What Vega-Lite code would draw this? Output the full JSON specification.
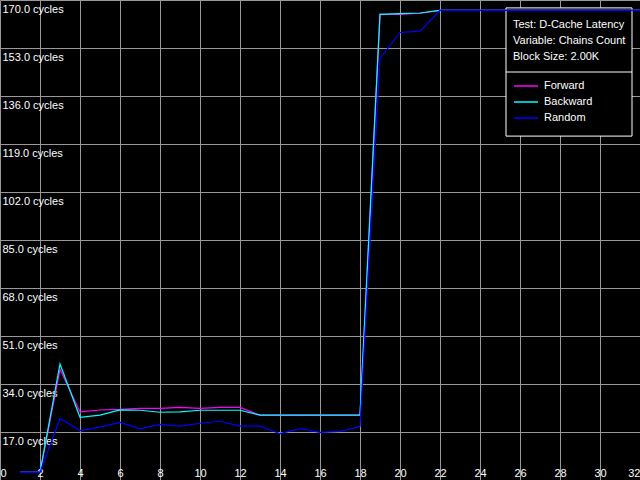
{
  "$schema": "https://vega.github.io/schema/vega-lite/v6.json",
  "width": 640,
  "height": 480,
  "padding": 0,
  "autosize": {"type": "none"},
  "background": "black",
  "config": {
    "view": {"stroke": null},
    "font": "Liberation Sans",
    "axis": {
      "labelOverlap": false, "grid": true, "gridColor": "#999999", "gridWidth": 1,
      "domain": false, "ticks": false, "title": null,
      "labelColor": "white", "labelFont": "Liberation Sans", "labelFontSize": 11
    },
    "axisX": {"labelPadding": -4, "labelBaseline": "alphabetic", "labelFlush": true},
    "axisY": {"labelAlign": "left", "labelPadding": -2, "labelBaseline": "alphabetic", "labelOffset": 12, "labelFlush": false}
  },
  "layer": [
    {
      "data": {"values": [{}]},
      "mark": {"type": "rect", "fill": "black", "stroke": "white", "strokeWidth": 1},
      "encoding": {
        "x": {"datum": 25.3, "type": "quantitative", "scale": {"domain": [0, 32], "nice": false},
          "axis": {"values": [0, 2, 4, 6, 8, 10, 12, 14, 16, 18, 20, 22, 24, 26, 28, 30, 32], "labelOverlap": false}},
        "x2": {"datum": 31.6},
        "y": {"datum": 167.2, "type": "quantitative", "scale": {"domain": [0, 170], "nice": false, "zero": true},
          "axis": {"values": [17, 34, 51, 68, 85, 102, 119, 136, 153, 170], "labelOverlap": false,
            "labelExpr": "format(datum.value, '.1f') + ' cycles'"}},
        "y2": {"datum": 121.8}
      }
    },
    {
      "data": {"values": [{}]},
      "mark": {"type": "rule", "color": "white", "strokeWidth": 1},
      "encoding": {
        "x": {"datum": 25.3, "type": "quantitative",
          "axis": {"values": [0, 2, 4, 6, 8, 10, 12, 14, 16, 18, 20, 22, 24, 26, 28, 30, 32], "labelOverlap": false}},
        "x2": {"datum": 31.6},
        "y": {"datum": 144.5, "type": "quantitative",
          "axis": {"values": [17, 34, 51, 68, 85, 102, 119, 136, 153, 170], "labelOverlap": false,
            "labelExpr": "format(datum.value, '.1f') + ' cycles'"}}
      }
    },
    {
      "data": {"values": [
        {"x": 1, "cycles": 2.7, "series": "Forward"},
        {"x": 2, "cycles": 2.7, "series": "Forward"},
        {"x": 3, "cycles": 39.2, "series": "Forward"},
        {"x": 4, "cycles": 24.1, "series": "Forward"},
        {"x": 5, "cycles": 24.8, "series": "Forward"},
        {"x": 6, "cycles": 25.0, "series": "Forward"},
        {"x": 7, "cycles": 25.4, "series": "Forward"},
        {"x": 8, "cycles": 25.4, "series": "Forward"},
        {"x": 9, "cycles": 25.7, "series": "Forward"},
        {"x": 10, "cycles": 25.4, "series": "Forward"},
        {"x": 11, "cycles": 25.7, "series": "Forward"},
        {"x": 12, "cycles": 25.7, "series": "Forward"},
        {"x": 13, "cycles": 23.0, "series": "Forward"},
        {"x": 14, "cycles": 23.0, "series": "Forward"},
        {"x": 15, "cycles": 23.0, "series": "Forward"},
        {"x": 16, "cycles": 23.0, "series": "Forward"},
        {"x": 17, "cycles": 23.0, "series": "Forward"},
        {"x": 18, "cycles": 23.0, "series": "Forward"},
        {"x": 19, "cycles": 164.9, "series": "Forward"},
        {"x": 20, "cycles": 164.9, "series": "Forward"},
        {"x": 21, "cycles": 165.3, "series": "Forward"},
        {"x": 22, "cycles": 166.3, "series": "Forward"},
        {"x": 23, "cycles": 166.3, "series": "Forward"},
        {"x": 24, "cycles": 166.3, "series": "Forward"},
        {"x": 25, "cycles": 166.3, "series": "Forward"},
        {"x": 26, "cycles": 166.3, "series": "Forward"},
        {"x": 27, "cycles": 166.3, "series": "Forward"},
        {"x": 28, "cycles": 166.3, "series": "Forward"},
        {"x": 29, "cycles": 166.3, "series": "Forward"},
        {"x": 30, "cycles": 166.3, "series": "Forward"},
        {"x": 31, "cycles": 166.3, "series": "Forward"},
        {"x": 32, "cycles": 166.3, "series": "Forward"},
        {"x": 1, "cycles": 2.7, "series": "Backward"},
        {"x": 2, "cycles": 2.7, "series": "Backward"},
        {"x": 3, "cycles": 41.1, "series": "Backward"},
        {"x": 4, "cycles": 22.2, "series": "Backward"},
        {"x": 5, "cycles": 23.0, "series": "Backward"},
        {"x": 6, "cycles": 24.8, "series": "Backward"},
        {"x": 7, "cycles": 24.7, "series": "Backward"},
        {"x": 8, "cycles": 24.0, "series": "Backward"},
        {"x": 9, "cycles": 24.1, "series": "Backward"},
        {"x": 10, "cycles": 24.7, "series": "Backward"},
        {"x": 11, "cycles": 24.7, "series": "Backward"},
        {"x": 12, "cycles": 24.7, "series": "Backward"},
        {"x": 13, "cycles": 23.0, "series": "Backward"},
        {"x": 14, "cycles": 23.0, "series": "Backward"},
        {"x": 15, "cycles": 23.0, "series": "Backward"},
        {"x": 16, "cycles": 23.0, "series": "Backward"},
        {"x": 17, "cycles": 23.0, "series": "Backward"},
        {"x": 18, "cycles": 23.0, "series": "Backward"},
        {"x": 19, "cycles": 164.9, "series": "Backward"},
        {"x": 20, "cycles": 165.2, "series": "Backward"},
        {"x": 21, "cycles": 165.4, "series": "Backward"},
        {"x": 22, "cycles": 166.3, "series": "Backward"},
        {"x": 23, "cycles": 166.3, "series": "Backward"},
        {"x": 24, "cycles": 166.3, "series": "Backward"},
        {"x": 25, "cycles": 166.3, "series": "Backward"},
        {"x": 26, "cycles": 166.3, "series": "Backward"},
        {"x": 27, "cycles": 166.3, "series": "Backward"},
        {"x": 28, "cycles": 166.3, "series": "Backward"},
        {"x": 29, "cycles": 166.3, "series": "Backward"},
        {"x": 30, "cycles": 166.3, "series": "Backward"},
        {"x": 31, "cycles": 166.3, "series": "Backward"},
        {"x": 32, "cycles": 166.3, "series": "Backward"},
        {"x": 1, "cycles": 2.7, "series": "Random"},
        {"x": 2, "cycles": 2.7, "series": "Random"},
        {"x": 3, "cycles": 21.8, "series": "Random"},
        {"x": 4, "cycles": 17.5, "series": "Random"},
        {"x": 5, "cycles": 18.7, "series": "Random"},
        {"x": 6, "cycles": 20.4, "series": "Random"},
        {"x": 7, "cycles": 18.1, "series": "Random"},
        {"x": 8, "cycles": 19.7, "series": "Random"},
        {"x": 9, "cycles": 19.1, "series": "Random"},
        {"x": 10, "cycles": 20.1, "series": "Random"},
        {"x": 11, "cycles": 20.8, "series": "Random"},
        {"x": 12, "cycles": 19.1, "series": "Random"},
        {"x": 13, "cycles": 19.1, "series": "Random"},
        {"x": 14, "cycles": 16.4, "series": "Random"},
        {"x": 15, "cycles": 18.2, "series": "Random"},
        {"x": 16, "cycles": 16.9, "series": "Random"},
        {"x": 17, "cycles": 17.2, "series": "Random"},
        {"x": 18, "cycles": 18.9, "series": "Random"},
        {"x": 19, "cycles": 149.3, "series": "Random"},
        {"x": 20, "cycles": 158.5, "series": "Random"},
        {"x": 21, "cycles": 159.0, "series": "Random"},
        {"x": 22, "cycles": 166.3, "series": "Random"},
        {"x": 23, "cycles": 166.3, "series": "Random"},
        {"x": 24, "cycles": 166.3, "series": "Random"},
        {"x": 25, "cycles": 166.3, "series": "Random"},
        {"x": 26, "cycles": 166.3, "series": "Random"},
        {"x": 27, "cycles": 166.3, "series": "Random"},
        {"x": 28, "cycles": 166.3, "series": "Random"},
        {"x": 29, "cycles": 166.3, "series": "Random"},
        {"x": 30, "cycles": 166.3, "series": "Random"},
        {"x": 31, "cycles": 166.3, "series": "Random"},
        {"x": 32, "cycles": 166.3, "series": "Random"}
      ]},
      "mark": {"type": "line", "strokeWidth": 1.2},
      "encoding": {
        "x": {
          "field": "x", "type": "quantitative",
          "axis": {"values": [0, 2, 4, 6, 8, 10, 12, 14, 16, 18, 20, 22, 24, 26, 28, 30, 32], "labelOverlap": false}
        },
        "y": {
          "field": "cycles", "type": "quantitative",
          "axis": {"values": [17, 34, 51, 68, 85, 102, 119, 136, 153, 170], "labelOverlap": false,
            "labelExpr": "format(datum.value, '.1f') + ' cycles'"}
        },
        "color": {
          "field": "series", "type": "nominal",
          "scale": {"domain": ["Forward", "Backward", "Random"], "range": ["#ff00ff", "#00ffff", "#0000ff"]},
          "legend": {
            "orient": "none", "legendX": 506, "legendY": 12, "padding": 7,
            "title": ["Test: D-Cache Latency", "Variable: Chains Count", "Block Size: 2.00K"],
            "titleColor": "white", "titleFont": "Liberation Sans", "titleFontSize": 11,
            "titleFontWeight": "normal", "titleLineHeight": 16, "titlePadding": 16,
            "labelColor": "white", "labelFont": "Liberation Sans", "labelFontSize": 11,
            "symbolType": "stroke", "symbolSize": 576, "symbolStrokeWidth": 1.5,
            "labelOffset": 5, "rowPadding": 0, "clipHeight": 16
          }
        }
      }
    }
  ]
}
